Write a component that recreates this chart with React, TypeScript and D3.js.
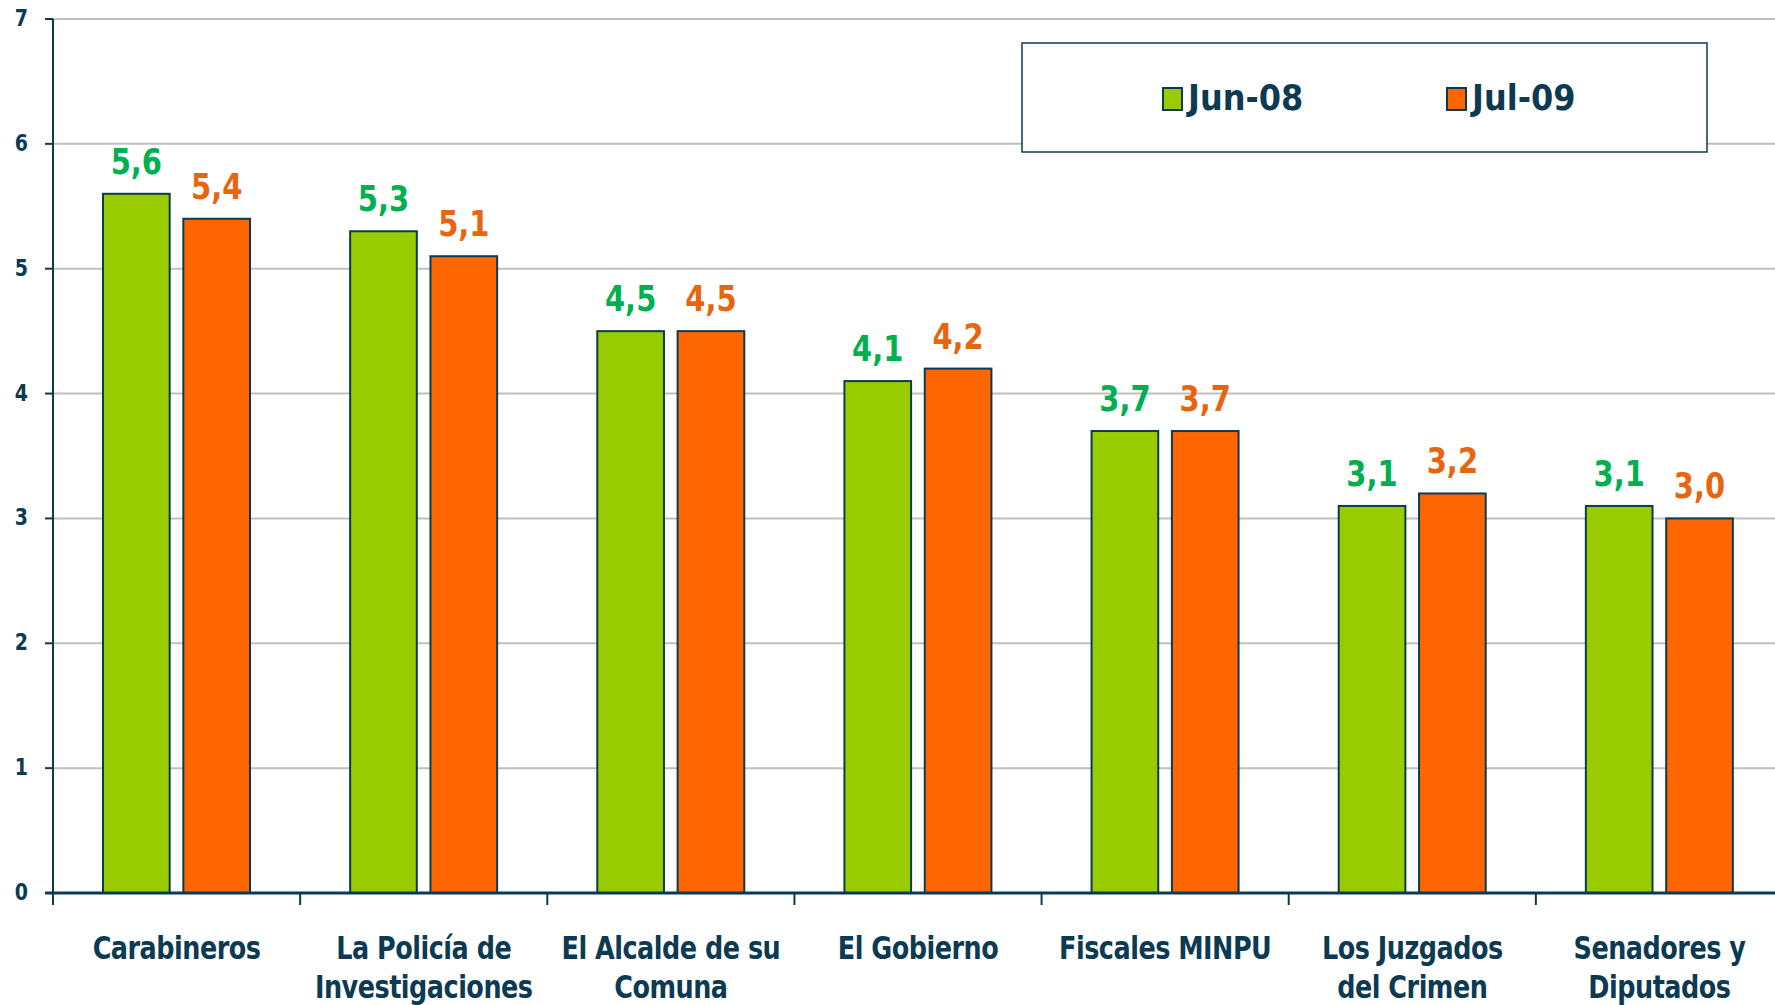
import React, { useRef, useEffect } from "react";
import * as d3 from "d3";

const categories = [
  ["Carabineros"],
  ["La Policía de", "Investigaciones"],
  ["El Alcalde de su", "Comuna"],
  ["El Gobierno"],
  ["Fiscales MINPU"],
  ["Los Juzgados", "del Crimen"],
  ["Senadores y", "Diputados"],
];
const seriesNames = ["Jun-08", "Jul-09"];
const jun08 = [5.6, 5.3, 4.5, 4.1, 3.7, 3.1, 3.1];
const jul09 = [5.4, 5.1, 4.5, 4.2, 3.7, 3.2, 3.0];
const yTicks = [0, 1, 2, 3, 4, 5, 6, 7];

const navy = "#0B3A52";
const barColors = ["#99CC00", "#FF6600"];
const labelColors = ["#00B050", "#E8650F"];
const stretch = 1.25;

const App = () => {
  const container = useRef<SVGSVGElement | null>(null);

  useEffect(() => {
    createChart();
  });

  const createChart = () => {
    const width = 1775;
    const height = 1005;
    const margins = { l: 53, t: 19, r: -8, b: 112 };
    const chartW = width - margins.l - margins.r;
    const chartH = height - margins.t - margins.b;

    const svg = d3.select(container.current);
    svg.selectAll("*").remove();
    svg.append("rect").attr("width", width).attr("height", height).attr("fill", "#fff");

    const g = svg.append("g").attr("transform", `translate(${margins.l},${margins.t})`);

    const ids = categories.map((c) => c.join(" "));
    const x = d3.scaleBand().domain(ids).range([0, chartW]).paddingInner(0).paddingOuter(0);
    const xs = d3.scaleBand().domain(seriesNames).range([50, 197]).paddingInner(0.17);
    const y = d3.scaleLinear().domain([0, 7]).range([chartH, 0]);

    // gridlines
    g.selectAll(".grid")
      .data(yTicks.slice(1))
      .join("line")
      .attr("x1", 0)
      .attr("x2", chartW)
      .attr("y1", (d) => y(d))
      .attr("y2", (d) => y(d))
      .attr("stroke", "#C0C0C0")
      .attr("stroke-width", 2);

    // y axis
    g.append("line")
      .attr("x1", 0).attr("x2", 0)
      .attr("y1", y(7)).attr("y2", y(0))
      .attr("stroke", navy).attr("stroke-width", 2);
    g.selectAll(".ytick")
      .data(yTicks)
      .join("line")
      .attr("x1", -8).attr("x2", 0)
      .attr("y1", (d) => y(d)).attr("y2", (d) => y(d))
      .attr("stroke", navy).attr("stroke-width", 2);
    g.selectAll(".ylab")
      .data(yTicks)
      .join("text")
      .attr("transform", (d) => `translate(-25,${y(d) + 7}) scale(1,${stretch})`)
      .attr("text-anchor", "end")
      .attr("font-family", "DejaVu Sans, Verdana, sans-serif")
      .attr("font-weight", "bold")
      .attr("font-size", 19)
      .attr("fill", navy)
      .text((d) => d);

    const data = ids.map((id, i) => ({ id, vals: [jun08[i], jul09[i]] }));

    // bars
    const groups = g.selectAll(".cat")
      .data(data)
      .join("g")
      .attr("transform", (d) => `translate(${x(d.id)},0)`);

    groups.selectAll("rect")
      .data((d) => d.vals.map((v, k) => ({ v, k })))
      .join("rect")
      .attr("x", (d) => xs(seriesNames[d.k])!)
      .attr("width", xs.bandwidth())
      .attr("y", (d) => y(d.v))
      .attr("height", (d) => y(0) - y(d.v))
      .attr("fill", (d) => barColors[d.k])
      .attr("stroke", navy)
      .attr("stroke-width", 2);

    groups.selectAll(".val")
      .data((d) => d.vals.map((v, k) => ({ v, k })))
      .join("text")
      .attr("transform", (d) => `translate(${xs(seriesNames[d.k])! + xs.bandwidth() / 2},${y(d.v) - 20}) scale(1,${stretch})`)
      .attr("text-anchor", "middle")
      .attr("font-family", "DejaVu Sans, Verdana, sans-serif")
      .attr("font-weight", "bold")
      .attr("font-size", 29)
      .attr("fill", (d) => labelColors[d.k])
      .text((d) => d.v.toFixed(1).replace(".", ","));

    // x axis
    g.append("line")
      .attr("x1", -8).attr("x2", chartW)
      .attr("y1", y(0)).attr("y2", y(0))
      .attr("stroke", navy).attr("stroke-width", 3);
    g.selectAll(".xtick")
      .data(ids)
      .join("line")
      .attr("x1", (d) => x(d)!).attr("x2", (d) => x(d)!)
      .attr("y1", y(0)).attr("y2", y(0) + 12)
      .attr("stroke", navy).attr("stroke-width", 2);

    const catLab = g.selectAll(".catlab")
      .data(categories)
      .join("g")
      .attr("transform", (d, i) => `translate(${x(ids[i])! + x.bandwidth() / 2},${y(0) + 66})`);
    catLab.selectAll("text")
      .data((d) => d)
      .join("text")
      .attr("transform", (d, j) => `translate(0,${j * 39}) scale(1,${stretch})`)
      .attr("text-anchor", "middle")
      .attr("font-family", "DejaVu Sans, Verdana, sans-serif")
      .attr("font-weight", "bold")
      .attr("font-size", 25.5)
      .attr("letter-spacing", -0.5)
      .attr("fill", navy)
      .text((d) => d);

    // legend
    const lg = svg.append("g");
    lg.append("rect")
      .attr("x", 1022).attr("y", 43)
      .attr("width", 685).attr("height", 109)
      .attr("fill", "#fff")
      .attr("stroke", navy).attr("stroke-width", 1.5);
    const legendX = [1163, 1447];
    seriesNames.forEach((s, k) => {
      lg.append("rect")
        .attr("x", legendX[k]).attr("y", 88)
        .attr("width", 19).attr("height", 22)
        .attr("fill", barColors[k])
        .attr("stroke", navy).attr("stroke-width", 2);
      lg.append("text")
        .attr("transform", `translate(${legendX[k] + 25},110) scale(1,1.1)`)
        .attr("font-family", "DejaVu Sans, Verdana, sans-serif")
        .attr("font-weight", "bold")
        .attr("font-size", 32)
        .attr("fill", navy)
        .text(s);
    });
  };

  return (
    <svg
      ref={container}
      width={1775}
      height={1005}
      style={{ position: "absolute", left: 0, top: 0 }}
    />
  );
};

export default App;
